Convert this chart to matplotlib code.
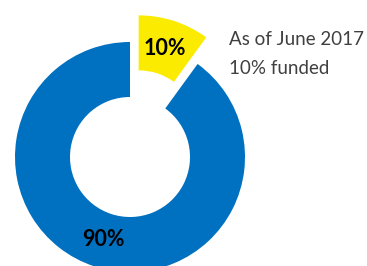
import matplotlib
matplotlib.use("Agg")
from matplotlib import pyplot as plt

# data
segments = ["funded", "unfunded"]
shares = [10, 90]
colors = ["#FAEB00", "#0070C0"]
notes = ["As of June 2017", "10% funded"]

plt.rcParams['font.family'] = ['Lato', 'DejaVu Sans']

W, H = 367, 266
fig = plt.figure(figsize=(W / 100, H / 100), dpi=100)
ax = fig.add_axes([0, 0, 1, 1])

R = 115
wedges, texts, autotexts = ax.pie(
    shares, colors=colors, startangle=90, counterclock=False,
    radius=R, center=(130, 109), explode=[28, 0],
    wedgeprops=dict(width=55, linewidth=0),
    autopct='%d%%', pctdistance=0.75,
    textprops=dict(fontsize=15.5, fontweight='bold', color='black'),
    frame=True)
ax.set_xlim(0, W)
ax.set_ylim(0, H)
ax.set_aspect('equal')
ax.axis('off')

ax.text(229, H - 45, notes[0], fontsize=13.5, color='#404040', va='baseline')
ax.text(229, H - 74, notes[1], fontsize=13.5, color='#404040', va='baseline')

fig.savefig('out.png', dpi=100)
